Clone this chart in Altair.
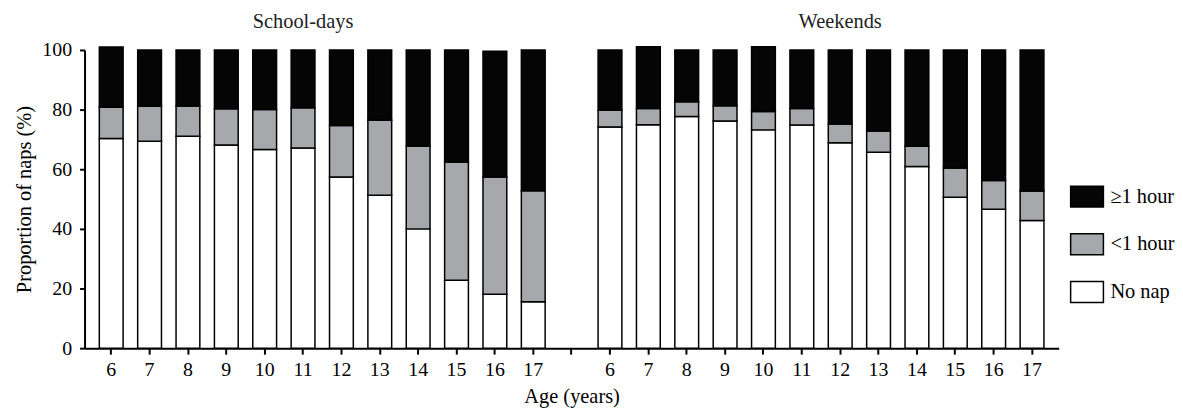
import altair as alt
import pandas as pd

ages = [6, 7, 8, 9, 10, 11, 12, 13, 14, 15, 16, 17]
categories = ["≥1 hour", "<1 hour", "No nap"]
colors = ["#050505", "#a7a8ac", "#ffffff"]

school_no_nap = [70.3, 69.4, 71.1, 68.1, 66.6, 67.1, 57.4, 51.3, 40.0, 22.8, 18.1, 15.6]
school_lt1 = [10.5, 11.7, 10.1, 12.2, 13.4, 13.5, 17.3, 25.1, 27.8, 39.6, 39.3, 37.2]
school_ge1 = [20.2, 18.9, 18.8, 19.7, 20.0, 19.4, 25.3, 23.6, 32.2, 37.6, 42.2, 47.2]

weekend_no_nap = [74.2, 74.9, 77.7, 76.2, 73.2, 74.8, 68.9, 65.7, 60.9, 50.6, 46.6, 42.8]
weekend_lt1 = [5.6, 5.5, 4.9, 5.1, 6.2, 5.6, 6.3, 7.1, 6.8, 9.8, 9.6, 9.9]
weekend_ge1 = [20.2, 20.7, 17.4, 18.7, 21.7, 19.6, 24.8, 27.2, 32.3, 39.6, 43.8, 47.3]

panel_titles = ["School-days", "Weekends"]
title_keys = ["S11", "W12"]

FONT = "Times New Roman, Liberation Serif, DejaVu Serif, serif"

rows = []
for prefix, nn, lt, ge in [("S", school_no_nap, school_lt1, school_ge1),
                           ("W", weekend_no_nap, weekend_lt1, weekend_ge1)]:
    for i, a in enumerate(ages):
        key = f"{prefix}{a}"
        rows.append({"key": key, "cat": "No nap", "ord": 0, "value": nn[i]})
        rows.append({"key": key, "cat": "<1 hour", "ord": 1, "value": lt[i]})
        rows.append({"key": key, "cat": "≥1 hour", "ord": 2, "value": ge[i]})
df = pd.DataFrame(rows)

domain = [f"S{a}" for a in ages] + ["gap"] + [f"W{a}" for a in ages]

xscale = alt.Scale(domain=domain, paddingInner=0.38, paddingOuter=0.385)

bars = alt.Chart(df).mark_bar(stroke="black", strokeWidth=1.5).encode(
    x=alt.X("key:N", scale=xscale, sort=domain,
            axis=alt.Axis(title="Age (years)", labelAngle=0,
                          labelExpr="datum.value == 'gap' ? '' : substring(datum.value, 1)",
                          tickSize=6, tickWidth=2, domainWidth=2,
                          domainColor="black", tickColor="black",
                          labelFont=FONT, labelFontSize=20, labelColor="black",
                          labelPadding=6, titleFont=FONT, titleFontSize=20.5,
                          titleFontWeight="normal", titleColor="black",
                          titlePadding=7)),
    y=alt.Y("value:Q", stack="zero",
            scale=alt.Scale(domain=[0, 100], nice=False),
            axis=alt.Axis(title="Proportion of naps (%)", values=[0, 20, 40, 60, 80, 100],
                          grid=False, tickSize=5, tickWidth=2, domainWidth=2,
                          domainColor="black", tickColor="black",
                          labelFont=FONT, labelFontSize=20, labelColor="black",
                          labelPadding=8, titleFont=FONT, titleFontSize=20.5,
                          titleFontWeight="normal", titleColor="black",
                          titlePadding=7)),
    color=alt.Color("cat:N",
                    scale=alt.Scale(domain=categories, range=colors),
                    legend=alt.Legend(title=None, orient="none", legendX=997, legendY=136,
                                      symbolType="M-1.57,-1H1.57V1H-1.57Z", symbolSize=441,
                                      symbolStrokeColor="black", symbolStrokeWidth=1.5,
                                      symbolOpacity=1,
                                      labelFont=FONT, labelFontSize=20.5, labelColor="black",
                                      labelOffset=12, rowPadding=21, padding=0)),
    order=alt.Order("ord:Q"),
)

tdf = pd.DataFrame({"key": title_keys, "label": panel_titles})
titles = alt.Chart(tdf).mark_text(font=FONT, fontSize=20.5, color="#222222",
                                  baseline="alphabetic", align="center").encode(
    x=alt.X("key:N", scale=xscale, sort=domain),
    y=alt.value(-22),
    text="label:N",
)

chart = alt.layer(bars, titles).properties(
    width=980, height=300,
    padding={"left": 7, "top": 3, "right": 0, "bottom": 0},
).configure_view(stroke=None)

chart.save("out.html", embed_options={"renderer": "svg", "actions": False})
